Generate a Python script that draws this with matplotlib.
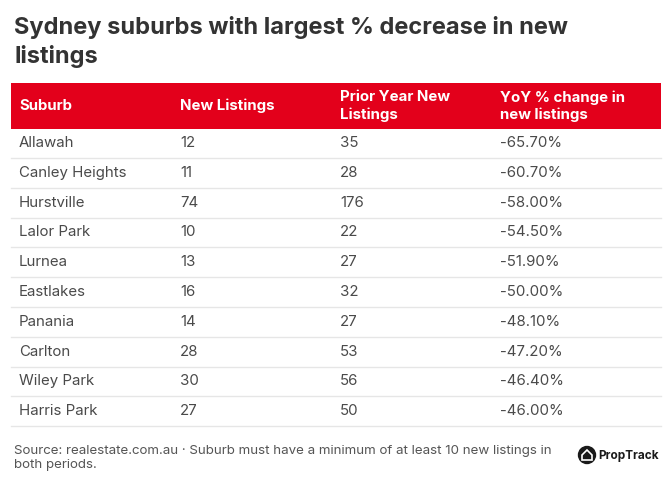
import matplotlib.pyplot as plt
from matplotlib.patches import Rectangle, Circle, Polygon

suburbs = ["Allawah", "Canley Heights", "Hurstville", "Lalor Park", "Lurnea",
           "Eastlakes", "Panania", "Carlton", "Wiley Park", "Harris Park"]
new_listings = [12, 11, 74, 10, 13, 16, 14, 28, 30, 27]
prior_listings = [35, 28, 176, 22, 27, 32, 27, 53, 56, 50]
yoy_change = [-65.70, -60.70, -58.00, -54.50, -51.90, -50.00, -48.10, -47.20, -46.40, -46.00]
headers = ["Suburb", "New Listings", "Prior Year New\nListings", "YoY % change in\nnew listings"]

FONT = "Inter"
RED = "#e3001b"
TXT = "#4a4a4a"

fig = plt.figure(figsize=(6.71, 4.93), dpi=100)
ax = fig.add_axes([0, 0, 1, 1])
ax.set_xlim(0, 671)
ax.set_ylim(493, 0)
ax.axis("off")

ax.text(14, 42, "Sydney suburbs with largest % decrease in new\nlistings",
        fontsize=17, fontweight="bold", color="#333333", family=FONT,
        va="center", linespacing=1.3)

# header band
ax.add_patch(Rectangle((11, 83), 650, 46, color=RED, lw=0))
col_x = [19, 180, 340, 500]
for x, h in zip(col_x, headers):
    ax.text(x, 106, h, color="white", fontsize=10.8, fontweight="bold",
            family=FONT, va="center", linespacing=1.25)

row_h = 29.8
y0 = 143
for i in range(len(suburbs)):
    y = y0 + i * row_h
    vals = [suburbs[i], str(new_listings[i]), str(prior_listings[i]), f"{yoy_change[i]:.2f}%"]
    for x, v in zip(col_x, vals):
        ax.text(x, y, v, color=TXT, fontsize=10.8, family=FONT, va="center")
    ax.plot([11, 661], [y + 15, y + 15], color="#e6e6e6", lw=1)

ax.text(14, 458, "Source: realestate.com.au \u00b7 Suburb must have a minimum of at least 10 new listings in\nboth periods.",
        fontsize=9.6, color="#555555", family=FONT, va="center", linespacing=1.3)

# PropTrack logo
ax.add_patch(Circle((587, 455), 8.5, color="#1a1a1a"))
ax.add_patch(Polygon([(582, 455), (587, 450), (592, 455), (592, 460), (582, 460)],
                     closed=True, fill=False, ec="white", lw=1.2))
ax.text(598, 456, "PropTrack", fontsize=8.5, fontweight="bold", color="#1a1a1a",
        family=FONT, va="center")

fig.savefig("out.png", dpi=100, facecolor="white")
